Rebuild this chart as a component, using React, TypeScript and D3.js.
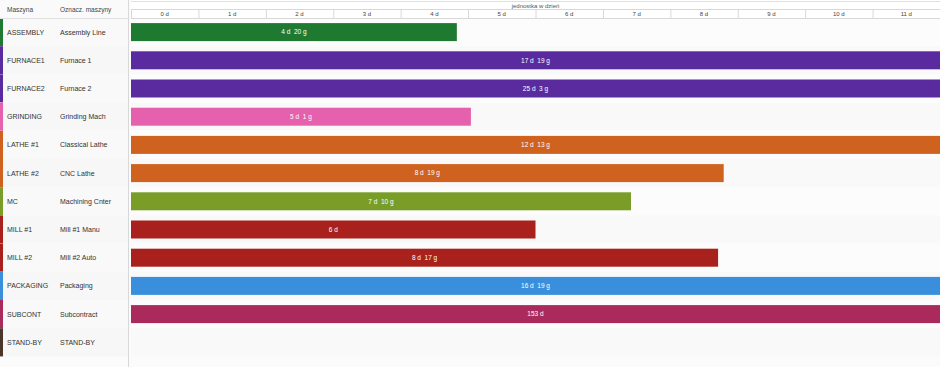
import React from 'react';
import * as d3 from 'd3';

// machine codes, descriptions, colours and load in hours
const machines = ['ASSEMBLY', 'FURNACE1', 'FURNACE2', 'GRINDING', 'LATHE #1', 'LATHE #2', 'MC', 'MILL #1', 'MILL #2', 'PACKAGING', 'SUBCONT', 'STAND-BY'];
const descriptions = ['Assembly Line', 'Furnace 1', 'Furnace 2', 'Grinding Mach', 'Classical Lathe', 'CNC Lathe', 'Machining Cnter', 'Mill #1 Manu', 'Mill #2 Auto', 'Packaging', 'Subcontract', 'STAND-BY'];
const colors = ['#1f7a31', '#5a2b9f', '#5a2b9f', '#e560ad', '#cf621f', '#cf621f', '#7a9d27', '#a8211c', '#a8211c', '#3a8fdc', '#aa2a5c', '#4b3528'];
const hours = [116, 427, 603, 121, 301, 211, 178, 144, 209, 403, 3672, 0];
const dayTicks = [0, 1, 2, 3, 4, 5, 6, 7, 8, 9, 10, 11];

const W = 940;
const H = 367;
const chartLeft = 131;
const headerH = 18;
const font = '"Liberation Sans", Arial, sans-serif';

const fmt = (h: number) => {
  const d = Math.floor(h / 24);
  const g = h % 24;
  return g ? `${d} d  ${g} g` : `${d} d`;
};

export default function App() {
  const x = d3.scaleLinear().domain([0, 12]).range([chartLeft, W]);
  const y = d3.scaleBand<string>().domain(machines).range([headerH, headerH + 28.2 * machines.length]).paddingInner(0).paddingOuter(0);
  const barH = 18;

  return (
    <svg width={W} height={H} style={{ position: 'absolute', left: 0, top: 0, fontFamily: font }}>
      <rect width={W} height={H} fill="#fbfbfb" />
      {/* rows */}
      {machines.map((m, i) => (
        <g key={m}>
          <rect x={0} y={y(m)!} width={128} height={y.bandwidth()} fill={i % 2 ? '#f7f7f7' : '#f9f9f9'} />
          <rect x={chartLeft} y={y(m)!} width={W - chartLeft} height={y.bandwidth()} fill={i % 2 ? '#f9f9f9' : '#fcfcfc'} />
          <rect x={0} y={y(m)!} width={3} height={y.bandwidth()} fill={colors[i]} />
          <text x={7} y={y(m)! + y.bandwidth() / 2 + 2.5} fontSize={7} fill="#333">{m}</text>
          <text x={60} y={y(m)! + y.bandwidth() / 2 + 2.5} fontSize={7} fill="#333">{descriptions[i]}</text>
        </g>
      ))}
      {/* header */}
      <rect x={0} y={0} width={128} height={headerH} fill="#fafafa" />
      <line x1={0} x2={128} y1={headerH + 0.5} y2={headerH + 0.5} stroke="#e2e2e2" />
      <text x={7} y={12} fontSize={6.5} fill="#444">Maszyna</text>
      <text x={60} y={12} fontSize={6.5} fill="#444">Oznacz. maszyny</text>
      <line x1={128.5} x2={128.5} y1={0} y2={H} stroke="#d8d8d8" />
      <rect x={chartLeft} y={0} width={W - chartLeft} height={headerH} fill="#ffffff" />
      <line x1={chartLeft} x2={W} y1={1.5} y2={1.5} stroke="#e0e0e0" />
      <line x1={chartLeft} x2={W} y1={9.5} y2={9.5} stroke="#d8d8d8" />
      <line x1={chartLeft} x2={W} y1={headerH + 0.5} y2={headerH + 0.5} stroke="#d8d8d8" />
      <text x={(chartLeft + W) / 2} y={7.5} fontSize={6} fill="#555" textAnchor="middle">jednostka w dzień</text>
      {dayTicks.map((t) => (
        <g key={t}>
          <line x1={x(t) + 0.5} x2={x(t) + 0.5} y1={9.5} y2={headerH} stroke="#d8d8d8" />
          <text x={(x(t) + x(t + 1)) / 2} y={16} fontSize={6} fill="#444" textAnchor="middle">{`${t} d`}</text>
        </g>
      ))}
      {/* bars */}
      {machines.map((m, i) => {
        if (!hours[i]) return null;
        const end = Math.min(x(hours[i] / 24), W);
        const cy = y(m)! + y.bandwidth() / 2;
        return (
          <g key={m}>
            <rect x={chartLeft} y={cy - barH / 2} width={end - chartLeft} height={barH} fill={colors[i]} />
            <text x={(chartLeft + end) / 2} y={cy + 2.3} fontSize={6.5} fill="#fff" textAnchor="middle" style={{ whiteSpace: 'pre' }}>{fmt(hours[i])}</text>
          </g>
        );
      })}
    </svg>
  );
}
